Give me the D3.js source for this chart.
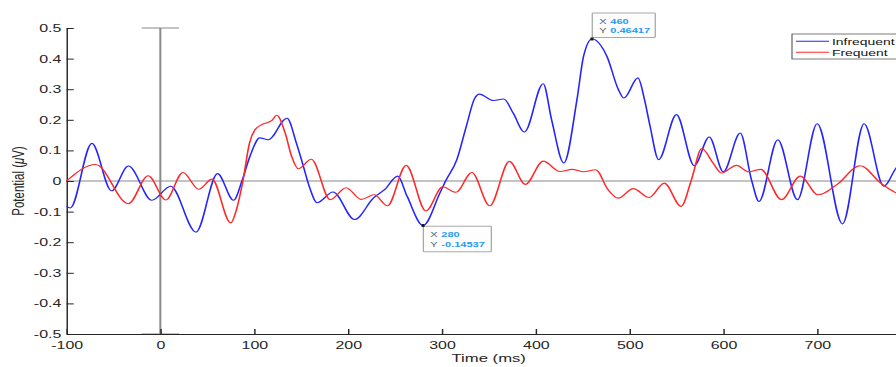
<!DOCTYPE html>
<html>
<head>
<meta charset="utf-8">
<script src="https://cdn.jsdelivr.net/npm/d3@7"></script>
<style>
  html, body { margin: 0; padding: 0; background: #fff; }
  svg { display: block; font-family: "Liberation Sans", Arial, Helvetica, sans-serif; }
</style>
</head>
<body>
<svg id="chart" width="896" height="367"></svg>
<script>
// ERP grand averages (µV) for the two stimulus conditions, sampled at the
// waveform's turning points and a few shoulder points (time in ms).
const infrequentTimes = [-100, -96, -73, -52, -34, -9, 11, 38, 61, 78, 87, 96, 106, 115, 135, 145, 152, 159, 167,
  184, 207, 227, 239, 253, 263, 280, 298, 304, 316, 326, 335, 340, 355, 366, 376, 388, 408, 417, 430, 444, 451,
  460, 476, 488, 494, 509, 516, 522, 531, 550, 569, 585, 600, 618, 630, 638, 658, 679, 700, 727, 750, 771, 784, 800];
const infrequentValues = [-0.083, -0.088, 0.123, -0.032, 0.049, -0.063, -0.017, -0.167, 0.024, -0.063, 0.0, 0.085,
  0.141, 0.135, 0.205, 0.124, 0.053, -0.02, -0.071, -0.036, -0.126, -0.056, -0.028, 0.016, -0.05, -0.14537, -0.039,
  0.0, 0.07, 0.178, 0.27, 0.284, 0.263, 0.268, 0.222, 0.16, 0.318, 0.2, 0.059, 0.266, 0.407, 0.46417, 0.407, 0.30,
  0.271, 0.337, 0.266, 0.178, 0.07, 0.217, 0.05, 0.144, 0.03, 0.157, 0.004, -0.067, 0.135, -0.061, 0.187, -0.14,
  0.187, -0.017, 0.042, 0.09];

const frequentTimes = [-100, -69, -34, -13, 6, 24, 41, 55, 75, 81, 88, 95, 101, 108, 119, 124, 133, 140, 147, 161,
  181, 198, 214, 228, 242, 262, 283, 301, 315, 332, 351, 372, 389, 408, 426, 439, 451, 464, 477, 488, 504, 521, 537,
  555, 566, 577, 589, 598, 614, 627, 640, 662, 682, 701, 721, 746, 767, 784, 800];
const frequentValues = [0.0, 0.054, -0.074, 0.017, -0.062, 0.028, -0.027, 0.006, -0.137, -0.095, 0.0, 0.124, 0.168,
  0.184, 0.198, 0.215, 0.157, 0.08, 0.04, 0.071, -0.061, -0.022, -0.06, -0.045, -0.081, 0.051, -0.098, -0.019,
  -0.037, 0.028, -0.081, 0.064, -0.011, 0.065, 0.031, 0.038, 0.03, 0.037, -0.028, -0.056, -0.025, -0.054, -0.007,
  -0.083, 0.004, 0.106, 0.059, 0.026, 0.051, 0.03, 0.038, -0.061, 0.016, -0.045, -0.012, 0.05, -0.005, -0.039, -0.06];

const seriesNames = ["Infrequent", "Frequent"];
const seriesColors = ["#2424ff", "#ff2828"];

const timeTicks = [-100, 0, 100, 200, 300, 400, 500, 600, 700];
const potentialTicks = [-0.5, -0.4, -0.3, -0.2, -0.1, 0, 0.1, 0.2, 0.3, 0.4, 0.5];
const potentialTickLabels = ["-0.5", "-0.4", "-0.3", "-0.2", "-0.1", "0", "0.1", "0.2", "0.3", "0.4", "0.5"];

// Stimulus-onset marker (vertical bar with caps) and data cursors on the Infrequent trace
const onsetTime = 0;
const onsetCapHalfWidth = 20;
const cursorTimes = [460, 280];

// ---------------------------------------------------------------------------
// The figure is drawn in a horizontally stretched frame (wide export aspect).
const SX = 1.45;
const svg = d3.select("#chart");
const g = svg.append("g").attr("transform", `scale(${SX},1)`);

const x = d3.scaleLinear().domain([-100, 800]).range([66.5 / SX, 911 / SX]);
const y = d3.scaleLinear().domain([-0.5, 0.5]).range([334, 28]);

const ink = "#262626";

// zero reference line
g.append("line")
  .attr("x1", x(-100)).attr("x2", x(800))
  .attr("y1", y(0)).attr("y2", y(0))
  .attr("stroke", "#8a8a8a").attr("stroke-width", 1);

// onset marker
const onset = g.append("g").attr("stroke", "#8a8a8a").attr("fill", "none");
onset.append("line")
  .attr("x1", x(onsetTime)).attr("x2", x(onsetTime))
  .attr("y1", y(-0.5)).attr("y2", y(0.5)).attr("stroke-width", 1.4);
[-0.5, 0.5].forEach(v => {
  onset.append("line")
    .attr("x1", x(onsetTime - onsetCapHalfWidth)).attr("x2", x(onsetTime + onsetCapHalfWidth))
    .attr("y1", y(v)).attr("y2", y(v)).attr("stroke-width", 1.2);
});

// axes (MATLAB style: ticks point inward, no box)
const yAxis = d3.axisLeft(y)
  .tickValues(potentialTicks)
  .tickFormat((d, i) => potentialTickLabels[i])
  .tickSizeInner(-5).tickSizeOuter(0).tickPadding(3.6);
const xAxis = d3.axisBottom(x)
  .tickValues(timeTicks)
  .tickFormat(d => String(d))
  .tickSizeInner(-5).tickSizeOuter(0).tickPadding(6.8);

const gy = g.append("g").attr("transform", `translate(${x(-100)},0)`).call(yAxis);
const gx = g.append("g").attr("transform", `translate(0,${y(-0.5)})`).call(xAxis);
[gx, gy].forEach(a => {
  a.select(".domain").attr("stroke", ink).attr("stroke-width", 1);
  a.selectAll(".tick line").attr("stroke", ink).attr("stroke-width", 1);
  a.selectAll(".tick text").attr("fill", ink).attr("font-size", "11px")
    .attr("font-family", "Liberation Sans, Arial, sans-serif");
});

// axis titles
g.append("text")
  .attr("x", x(350)).attr("y", 362)
  .attr("text-anchor", "middle").attr("font-size", "11.5px").attr("fill", ink)
  .text("Time (ms)");
const yl = g.append("text")
  .attr("transform", `translate(${24 / SX},${y(0)}) rotate(-90)`)
  .attr("text-anchor", "middle").attr("font-size", "11.5px").attr("fill", ink);
yl.append("tspan").text("Potential (");
yl.append("tspan").attr("font-style", "italic").text("\u03BC");
yl.append("tspan").text("V)");

// waveforms
const line = d3.line().x(d => x(d[0])).y(d => y(d[1])).curve(d3.curveMonotoneX);
const infrequent = infrequentTimes.map((t, i) => [t, infrequentValues[i]]);
const frequent = frequentTimes.map((t, i) => [t, frequentValues[i]]);
[[infrequent, seriesColors[0]], [frequent, seriesColors[1]]].forEach(([data, color]) => {
  g.append("path").datum(data)
    .attr("d", line)
    .attr("fill", "none").attr("stroke", color)
    .attr("stroke-width", 1.1).attr("stroke-linejoin", "round");
});

// legend
const lg = g.append("g");
lg.append("rect")
  .attr("x", 792 / SX).attr("y", 34).attr("width", 120 / SX).attr("height", 25)
  .attr("fill", "#fff").attr("stroke", "#5a5a5a").attr("stroke-width", 0.8);
seriesNames.forEach((name, i) => {
  const yy = 41.3 + i * 11;
  lg.append("line")
    .attr("x1", 796 / SX).attr("x2", 829 / SX).attr("y1", yy).attr("y2", yy)
    .attr("stroke", seriesColors[i]).attr("stroke-width", 1.1);
  lg.append("text")
    .attr("x", 832 / SX).attr("y", yy + 3.4)
    .attr("font-size", "9.6px").attr("fill", "#111").text(name);
});

// data cursors on the Infrequent waveform
cursorTimes.forEach((t, k) => {
  const v = infrequentValues[infrequentTimes.indexOf(t)];
  const px = x(t), py = y(v);
  const above = k === 0;
  const boxW = (above ? 63 : 68) / SX, boxH = above ? 24.5 : 25.5;
  const bx = px + 0.3 / SX;
  const by = above ? py - 26 : py + 0.8;
  const tip = g.append("g");
  tip.append("rect")
    .attr("x", bx).attr("y", by).attr("width", boxW).attr("height", boxH)
    .attr("rx", 0.8).attr("fill", "#fdfdfd").attr("stroke", "#a9a9a9").attr("stroke-width", 0.9);
  [["X", String(t)], ["Y", String(v)]].forEach(([lab, val], j) => {
    const ty = by + 10.8 + j * 9.7;
    tip.append("text").attr("x", bx + 7 / SX).attr("y", ty)
      .attr("font-size", "7.6px").attr("fill", "#555").text(lab);
    tip.append("text").attr("x", bx + 18 / SX).attr("y", ty)
      .attr("font-size", "7.6px").attr("font-weight", "bold").attr("fill", "#1f9bf5").text(val);
  });
  tip.append("rect")
    .attr("x", px - 1.5 / SX).attr("y", py - 1.5).attr("width", 3 / SX).attr("height", 3)
    .attr("fill", "#1a1a1a");
});
</script>
</body>
</html>
